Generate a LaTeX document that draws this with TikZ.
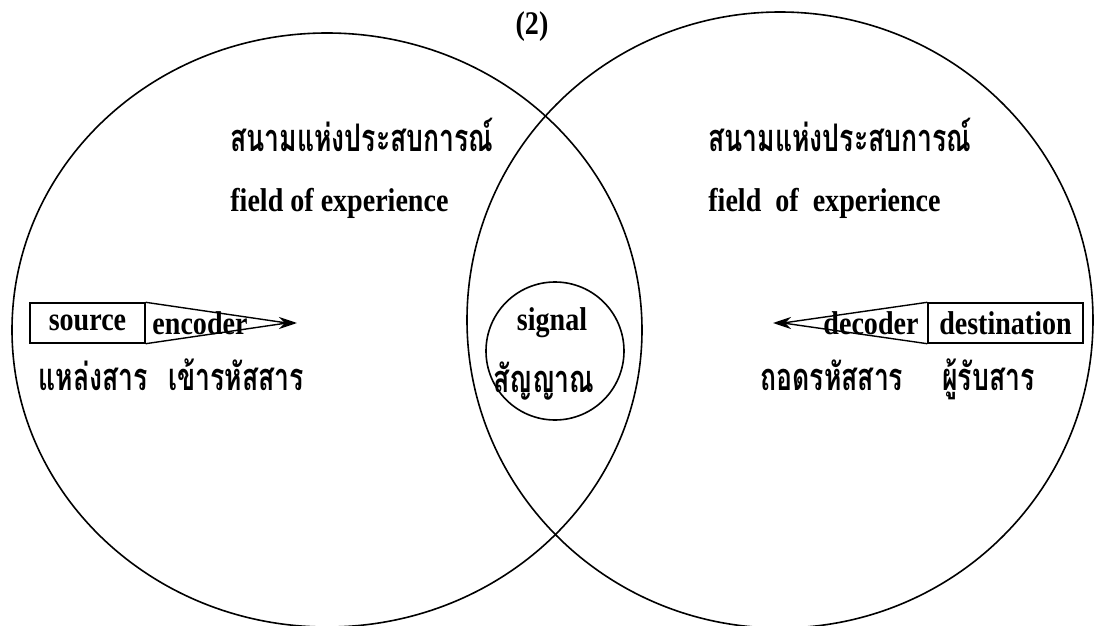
\documentclass[tikz,border=0pt]{standalone}
\usepackage{fontspec}
\setmainfont[FakeStretch=0.85]{Liberation Serif}
\newfontfamily\thaifont[Script=Thai,FakeStretch=0.70]{Loma}
\usetikzlibrary{arrows.meta,positioning,shapes.geometric}

\begin{document}
\begin{tikzpicture}[
    x=0.5pt, y=-0.5pt,
    field/.style={draw, ellipse, line width=0.8pt, inner sep=0pt},
    lbl/.style={font=\fontsize{16.5}{18}\selectfont\bfseries, inner sep=0pt},
    thai/.style={font=\fontsize{19}{22}\selectfont\thaifont\bfseries, inner sep=0pt},
    box/.style={draw, line width=0.7pt, minimum height=20pt, inner sep=0pt, lbl},
    arr/.style={-{Stealth[length=9pt,width=6pt]}, line width=0.8pt}
]
\useasboundingbox (0,0) rectangle (1094,626);
% the two fields of experience and the signal
\node[field, minimum width=315pt, minimum height=297pt] (left)  at (327,330) {};
\node[field, minimum width=313pt, minimum height=308pt] (right) at (780,320) {};
\node[draw, circle, line width=0.8pt, minimum size=69pt, inner sep=0pt] (sig) at (555,351) {};
\node[lbl] (num) at (532,27) {(2)};

% titles
\node[thai, anchor=base west] (lefttitle)  at (230,152) {สนามแห่งประสบการณ์};
\node[lbl,  anchor=base west] (leftfield)  at (230,212) {field of experience};
\node[thai, anchor=base west] (righttitle) at (708,152) {สนามแห่งประสบการณ์};
\node[lbl,  anchor=base west] (rightfield) at (708,212) {field\ \ of\ \ experience};

% sender side
\node[box, minimum width=57.5pt] (src) at (87.5,323) {source};
\node[lbl] (enc) at (200,323) {encoder};
\coordinate (encjoin) at (287,323);
\coordinate (enctip)  at (297,323);
\draw[line width=0.7pt] (src.north east) -- (encjoin) -- (src.south east);
\draw[arr] (encjoin) -- (enctip);
\node[thai, anchor=base west] (srcth) at (38,390)  {แหล่งสาร};
\node[thai, anchor=base west] (encth) at (168,390) {เข้ารหัสสาร};

% signal
\node[lbl,  anchor=base]      (sigen) at (552,330) {signal};
\node[thai, anchor=base west] (sigth) at (493,393) {สัญญาณ};

% receiver side
\node[box, minimum width=77.5pt] (dst) at (1005.5,323) {destination};
\node[lbl] (dec) at (871,323) {decoder};
\coordinate (decjoin) at (783,323);
\coordinate (dectip)  at (773,323);
\draw[line width=0.7pt] (dst.north west) -- (decjoin) -- (dst.south west);
\draw[arr] (decjoin) -- (dectip);
\node[thai, anchor=base west] (decth) at (760,390) {ถอดรหัสสาร};
\node[thai, anchor=base west] (dstth) at (942,390) {ผู้รับสาร};
\end{tikzpicture}
\end{document}
